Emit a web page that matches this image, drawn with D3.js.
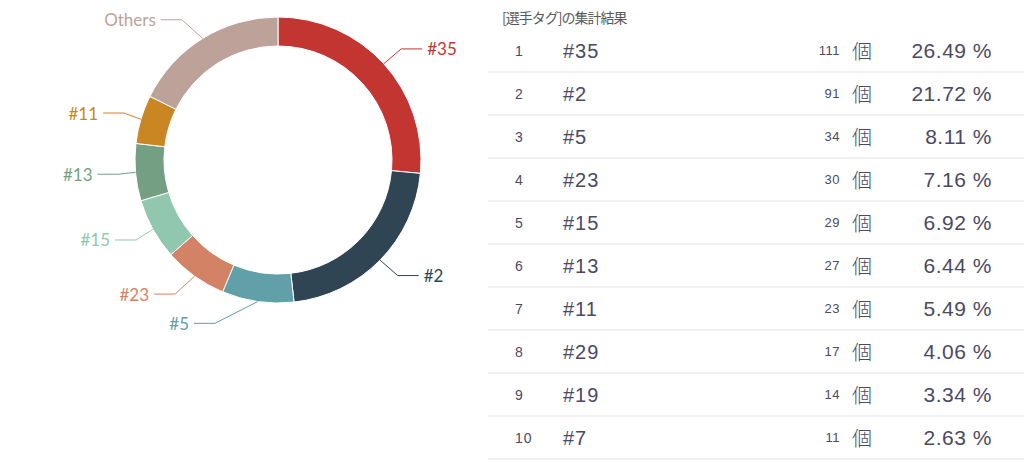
<!DOCTYPE html>
<html>
<head>
<meta charset="utf-8">
<script src="https://cdn.jsdelivr.net/npm/d3@7"></script>
<style>
  body { margin: 0; background: #fff; }
  svg { display: block; }
</style>
</head>
<body>
<svg id="chart" width="1024" height="463"></svg>
<script>
// donut slices (top 7 + the rest)
var pieNames  = ["#35", "#2", "#5", "#23", "#15", "#13", "#11", "Others"];
var pieValues = [111, 91, 34, 30, 29, 27, 23, 74];
var pieColors = ["#c23531", "#2f4554", "#61a0a8", "#d48265", "#91c7ae", "#749f83", "#ca8622", "#bda29a"];

// ranking table
var rankNames    = ["#35", "#2", "#5", "#23", "#15", "#13", "#11", "#29", "#19", "#7"];
var rankCounts   = [111, 91, 34, 30, 29, 27, 23, 17, 14, 11];
var rankPercents = [26.49, 21.72, 8.11, 7.16, 6.92, 6.44, 5.49, 4.06, 3.34, 2.63];

var titleText = "[選手タグ]の集計結果";
var unitText = "個";

var svg = d3.select("#chart");

// ---- donut ----
var cx = 278, cy = 160, rOuter = 143, rInner = 114;
var len1 = 22, len2 = 21, labelGap = 5;

var pie = d3.pie().sort(null).value(function(d) { return d.value; });
var arcs = pie(pieNames.map(function(n, i) {
  return { name: n, value: pieValues[i], color: pieColors[i] };
}));
var arc = d3.arc().innerRadius(rInner).outerRadius(rOuter);

var g = svg.append("g").attr("transform", "translate(" + cx + "," + cy + ")");

g.selectAll("path.slice")
    .data(arcs)
    .enter().append("path")
    .attr("class", "slice")
    .attr("d", arc)
    .style("fill", function(d) { return d.data.color; })
    .style("stroke", "#fff")
    .style("stroke-width", 1);

// label layout: start on the rim, go out radially, then sideways.
// x of the label is pushed onto a circle of radius rOuter+len1+len2
var rLabel = rOuter + len1 + len2;
arcs.forEach(function(d) {
  var a = (d.startAngle + d.endAngle) / 2;
  var sx = Math.sin(a), sy = -Math.cos(a);
  d.dir = sx < 0 ? -1 : 1;
  d.p0 = [rOuter * sx, rOuter * sy];
  var p1 = [(rOuter + len1) * sx, (rOuter + len1) * sy];
  d.ly = p1[1];
  var dy = Math.abs(d.ly);
  var dx = dy < rOuter + len1 ? Math.sqrt(rLabel * rLabel - dy * dy) : Math.abs(p1[0]) + len2;
  d.lx = d.dir * dx;
  d.p2 = [d.lx - d.dir * labelGap, d.ly];
  d.p1 = [d.p2[0] - d.dir * len2, d.ly];
});

g.selectAll("polyline")
    .data(arcs)
    .enter().append("polyline")
    .attr("points", function(d) { return [d.p0, d.p1, d.p2].join(" "); })
    .style("fill", "none")
    .style("stroke", function(d) { return d.data.color; })
    .style("stroke-width", 1);

g.selectAll("text.plabel")
    .data(arcs)
    .enter().append("text")
    .attr("class", "plabel")
    .attr("x", function(d) { return d.lx; })
    .attr("y", function(d) { return d.ly; })
    .attr("dominant-baseline", "central")
    .attr("text-anchor", function(d) { return d.dir < 0 ? "end" : "start"; })
    .style("font-family", "Lato, 'Open Sans', sans-serif")
    .style("font-size", "17px")
    .style("fill", function(d) { return d.data.color; })
    .text(function(d) { return d.data.name; });

// ---- table ----
var textColor = "#4a4a62";
var y = d3.scaleBand().domain(d3.range(rankNames.length)).range([29, 459]);
var fmt = d3.format(".2f");

svg.append("text")
    .attr("x", 502)
    .attr("y", 17)
    .attr("dominant-baseline", "central")
    .style("font-family", "'Noto Sans CJK JP', sans-serif")
    .style("font-size", "14px")
    .style("letter-spacing", "-1px")
    .style("fill", "#595959")
    .text(titleText);

var rows = svg.append("g").selectAll("g.row")
    .data(rankNames)
    .enter().append("g")
    .attr("class", "row")
    .attr("transform", function(d, i) { return "translate(0," + y(i) + ")"; });

var mid = y.bandwidth() / 2;

rows.append("line")
    .attr("x1", 488).attr("x2", 1024)
    .attr("y1", y.bandwidth()).attr("y2", y.bandwidth())
    .style("stroke", "#ececec")
    .style("stroke-width", 1.5);

rows.append("text")
    .attr("x", 515).attr("y", mid)
    .attr("dominant-baseline", "central")
    .style("font-family", "'Liberation Sans', Arial, sans-serif")
    .style("font-size", "14px")
    .style("letter-spacing", "1px")
    .style("fill", textColor)
    .text(function(d, i) { return i + 1; });

rows.append("text")
    .attr("x", 563).attr("y", mid)
    .attr("dominant-baseline", "central")
    .style("font-family", "'Liberation Sans', Arial, sans-serif")
    .style("font-size", "20px")
    .style("letter-spacing", "1px")
    .style("fill", textColor)
    .text(function(d) { return d; });

rows.append("text")
    .attr("x", 840).attr("y", mid)
    .attr("dominant-baseline", "central")
    .attr("text-anchor", "end")
    .style("font-family", "'Liberation Sans', Arial, sans-serif")
    .style("font-size", "13px")
    .style("letter-spacing", "0.5px")
    .style("fill", textColor)
    .text(function(d, i) { return rankCounts[i]; });

rows.append("text")
    .attr("x", 852).attr("y", mid)
    .attr("dominant-baseline", "central")
    .style("font-family", "'Noto Sans CJK JP', sans-serif")
    .style("font-size", "20px")
    .style("font-weight", 300)
    .style("fill", textColor)
    .text(unitText);

rows.append("text")
    .attr("x", 992).attr("y", mid)
    .attr("dominant-baseline", "central")
    .attr("text-anchor", "end")
    .style("font-family", "'Liberation Sans', Arial, sans-serif")
    .style("font-size", "21px")
    .style("letter-spacing", "0.5px")
    .style("fill", textColor)
    .text(function(d, i) { return fmt(rankPercents[i]) + " %"; });
</script>
</body>
</html>
